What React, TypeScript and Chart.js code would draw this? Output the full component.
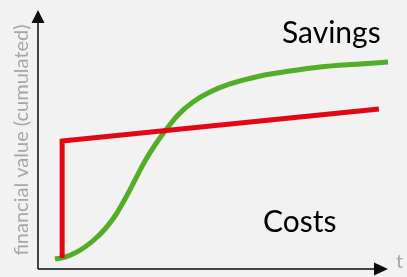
import React, { useEffect, useRef } from "react";
import { Chart, registerables } from "chart.js";

Chart.register(...registerables);

// time (0..100) and cumulated financial value (0..100)
const costTime = [6.9, 6.9, 97.4];
const costValue = [4.2, 49.4, 61.8];

const savingsTime = [4.86, 7.71, 10.57, 13.43, 16.29, 19.14, 22, 24.86, 27.71, 30.57, 33.43, 36.29, 40, 44.29, 49.14, 54.86, 63.43, 72, 80.57, 92, 100];
const savingsValue = [3.86, 4.63, 6.18, 8.49, 11.58, 15.44, 20.46, 27.03, 34.36, 41.7, 47.88, 53.28, 59.46, 64.48, 68.34, 71.43, 74.52, 76.45, 78, 79.15, 79.92];

const yAxisTitle = "financial value (cumulated)";
const xAxisTitle = "t";
const savingsLabel = "Savings";
const costsLabel = "Costs";

const RED = "rgb(227,6,19)";
const GREEN = "rgb(82,174,41)";
const AXIS = "#0d0d0d";
const GREY = "#a6a6a6";
const FONT = "Lato, 'Open Sans', sans-serif";

const decorPlugin = {
  id: "decor",
  beforeDatasetsDraw(chart: any) {
    const { ctx, chartArea } = chart;
    const x0 = chartArea.left;
    const y0 = chartArea.bottom;
    ctx.save();
    // axes
    ctx.strokeStyle = AXIS;
    ctx.fillStyle = AXIS;
    ctx.lineWidth = 1.5;
    ctx.beginPath();
    ctx.moveTo(x0, y0);
    ctx.lineTo(x0, chartArea.top + 10);
    ctx.moveTo(x0, y0);
    ctx.lineTo(chartArea.right - 10, y0);
    ctx.stroke();
    // y arrowhead
    ctx.beginPath();
    ctx.moveTo(x0, chartArea.top);
    ctx.lineTo(x0 - 6.5, chartArea.top + 13);
    ctx.lineTo(x0 + 6.5, chartArea.top + 13);
    ctx.closePath();
    ctx.fill();
    // x arrowhead
    ctx.beginPath();
    ctx.moveTo(chartArea.right, y0);
    ctx.lineTo(chartArea.right - 14, y0 - 6.5);
    ctx.lineTo(chartArea.right - 14, y0 + 6.5);
    ctx.closePath();
    ctx.fill();

    // y axis title
    ctx.fillStyle = GREY;
    ctx.font = `20px ${FONT}`;
    ctx.textAlign = "center";
    ctx.textBaseline = "alphabetic";
    ctx.save();
    ctx.translate(28, 140);
    ctx.rotate(-Math.PI / 2);
    ctx.fillText(yAxisTitle, 0, 0);
    ctx.restore();
    // x axis title
    ctx.textAlign = "left";
    ctx.fillText(xAxisTitle, 396, 268);

    // labels
    ctx.fillStyle = "#000";
    ctx.font = `30px ${FONT}`;
    ctx.fillText(savingsLabel, 282, 43);
    ctx.fillText(costsLabel, 263, 232);
    ctx.restore();
  },
};

export default function App() {
  const ref = useRef<HTMLCanvasElement | null>(null);
  useEffect(() => {
    if (!ref.current) return;
    const chart = new Chart(ref.current, {
      type: "line",
      data: {
        datasets: [
          {
            label: "Costs",
            data: costTime.map((t, i) => ({ x: t, y: costValue[i] })),
            borderColor: RED,
            borderWidth: 5,
            pointRadius: 0,
            tension: 0,
            borderJoinStyle: "miter",
            borderCapStyle: "butt",
            clip: false,
          },
          {
            label: "Savings",
            data: savingsTime.map((t, i) => ({ x: t, y: savingsValue[i] })),
            borderColor: GREEN,
            borderWidth: 5,
            pointRadius: 0,
            cubicInterpolationMode: "monotone",
            borderCapStyle: "butt",
            clip: false,
          },
        ],
      },
      options: {
        animation: false,
        responsive: false,
        devicePixelRatio: 1,
        layout: { padding: { left: 38, right: 19, top: 10, bottom: 8 } },
        plugins: { legend: { display: false }, tooltip: { enabled: false } },
        scales: {
          x: { type: "linear", min: 0, max: 100, display: false },
          y: { type: "linear", min: 0, max: 100, display: false },
        },
      },
      plugins: [decorPlugin],
    } as any);
    return () => chart.destroy();
  }, []);
  return (
    <div style={{ position: "fixed", left: 0, top: 0, width: 407, height: 277, background: "#f2f2f2" }}>
      <canvas ref={ref} width={407} height={277} style={{ display: "block" }} />
    </div>
  );
}
